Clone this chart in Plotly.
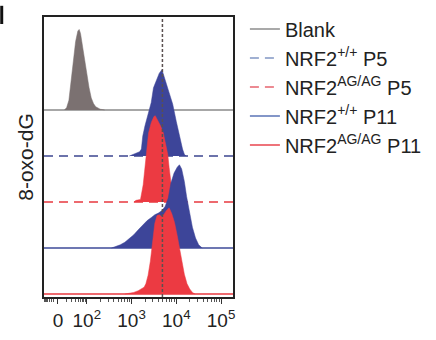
import plotly.graph_objects as go
import numpy as np

# ---------------- data ----------------
series_names = ["Blank", "NRF2<sup>+/+</sup> P5", "NRF2<sup>AG/AG</sup> P5",
                "NRF2<sup>+/+</sup> P11", "NRF2<sup>AG/AG</sup> P11"]
lane_offsets = [4, 3, 2, 1, 0]
peak_heights = [1.75, 1.875, 1.875, 1.81, 1.875]

# x in log10 display units (biexponential-like axis), heights as fraction of peak
blank_u = [1.50, 1.55, 1.60, 1.65, 1.70, 1.75, 1.80, 1.83, 1.86, 1.90, 1.95, 2.00, 2.05, 2.10, 2.15, 2.20, 2.30, 2.40]
blank_h = [0.00, 0.03, 0.12, 0.35, 0.62, 0.85, 0.98, 1.00, 0.95, 0.80, 0.62, 0.45, 0.28, 0.15, 0.08, 0.04, 0.01, 0.00]

wt_p5_u = [2.95, 3.00, 3.10, 3.18, 3.22, 3.25, 3.30, 3.38, 3.44, 3.49, 3.55, 3.62, 3.68, 3.72, 3.81, 3.88, 3.92, 4.00, 4.07, 4.14, 4.18, 4.22]
wt_p5_h = [0.00, 0.01, 0.03, 0.05, 0.08, 0.23, 0.35, 0.50, 0.62, 0.79, 0.88, 0.96, 1.00, 0.93, 0.79, 0.68, 0.60, 0.40, 0.23, 0.08, 0.02, 0.00]

ag_p5_u = [3.05, 3.10, 3.20, 3.22, 3.26, 3.29, 3.33, 3.38, 3.44, 3.50, 3.53, 3.58, 3.65, 3.71, 3.76, 3.81, 3.84, 3.87, 3.90, 3.93, 3.96]
ag_p5_h = [0.00, 0.02, 0.03, 0.08, 0.20, 0.35, 0.55, 0.80, 0.92, 0.99, 1.00, 0.95, 0.88, 0.80, 0.68, 0.55, 0.40, 0.25, 0.10, 0.02, 0.00]

wt_p11_u = [2.55, 2.65, 2.75, 2.85, 2.95, 3.05, 3.15, 3.25, 3.35, 3.45, 3.52, 3.60, 3.68, 3.75, 3.82, 3.88, 3.95, 4.02, 4.07, 4.12, 4.18, 4.23, 4.30, 4.36, 4.43, 4.50, 4.58]
wt_p11_h = [0.00, 0.02, 0.04, 0.07, 0.11, 0.16, 0.22, 0.28, 0.33, 0.37, 0.40, 0.42, 0.45, 0.50, 0.60, 0.78, 0.90, 0.97, 1.00, 0.95, 0.80, 0.62, 0.42, 0.25, 0.12, 0.04, 0.00]

ag_p11_u = [2.85, 2.95, 3.05, 3.15, 3.22, 3.28, 3.32, 3.37, 3.42, 3.47, 3.52, 3.57, 3.62, 3.67, 3.72, 3.78, 3.84, 3.90, 3.96, 4.02, 4.07, 4.13, 4.18, 4.24, 4.30, 4.36, 4.42]
ag_p11_h = [0.00, 0.01, 0.02, 0.04, 0.06, 0.08, 0.12, 0.22, 0.38, 0.61, 0.82, 0.91, 0.92, 0.90, 0.92, 0.97, 1.00, 0.93, 0.83, 0.68, 0.53, 0.38, 0.23, 0.12, 0.06, 0.02, 0.00]

series_u = [blank_u, wt_p5_u, ag_p5_u, wt_p11_u, ag_p11_u]
series_h = [blank_h, wt_p5_h, ag_p5_h, wt_p11_h, ag_p11_h]

tick_vals = [1.356, 2, 3, 4, 5]
tick_text = ["0", "10<sup>2</sup>", "10<sup>3</sup>", "10<sup>4</sup>", "10<sup>5</sup>"]
marker_u = 3.69          # dashed reference line (log10 units)
x_range = [1.044, 5.267]
y_range = [-0.0625, 6.02]

# ---------------- styles ----------------
fill_colors = ["#7b7171", "#3d4599", "#ec3a42", "#3d4599", "#ec3a42"]
base_colors = ["#8a8a8a", "#3d4590", "#e8383f", "#3d4a98", "#e8383f"]
legend_colors = ["#8c8c8c", "#8196c4", "#e6646f", "#5a73b6", "#e8444e"]
dashes = ["solid", "9px,6px", "9px,6px", "solid", "solid"]
FONT = "Liberation Sans, Arial, sans-serif"

fig = go.Figure()
for i in range(5):
    off = lane_offsets[i]
    # baseline
    fig.add_trace(go.Scatter(x=x_range, y=[off, off], mode="lines",
                             line=dict(color=base_colors[i], width=1.5, dash=dashes[i]),
                             showlegend=False, hoverinfo="skip"))
    # histogram
    u = np.array(series_u[i])
    h = off + peak_heights[i] * np.array(series_h[i])
    fig.add_trace(go.Scatter(x=u, y=h, mode="lines", fill="toself",
                             fillcolor=fill_colors[i],
                             line=dict(color=fill_colors[i], width=0.5),
                             showlegend=False, hoverinfo="skip"))

# legend entries
for i in range(5):
    fig.add_trace(go.Scatter(x=[None], y=[None], mode="lines", name=series_names[i],
                             legendgroup=f"g{i}",
                             line=dict(color=legend_colors[i], width=1.5, dash=dashes[i])))

# minor ticks
minor_vals = []
for n in [2, 3, 4]:
    for k in range(2, 10):
        minor_vals.append(n + np.log10(k))
span = 2 - tick_vals[0]
for k in range(2, 10):
    minor_vals.append(tick_vals[0] + np.log10(k) * span)
    v = tick_vals[0] - np.log10(k) * span * 0.5
    if v > x_range[0]:
        minor_vals.append(v)

fig.add_shape(type="line", xref="x", yref="paper", x0=marker_u, x1=marker_u, y0=0, y1=1,
              line=dict(color="#5a5050", width=1.5, dash="3px,2px"))
# cropped panel letter at top-left corner
fig.add_shape(type="rect", xref="paper", yref="paper", x0=-0.2316, x1=-0.2158,
              y0=0.975, y1=1.04, fillcolor="#111", line=dict(width=0))

fig.update_layout(
    width=436, height=340,
    margin=dict(l=44, r=202, t=9, b=39),
    paper_bgcolor="white", plot_bgcolor="white",
    font=dict(family=FONT, color="#222"),
    showlegend=True,
    legend=dict(x=1.063, xanchor="left", y=1.027, yanchor="top",
                font=dict(size=20, family=FONT, color="#222"),
                traceorder="grouped", tracegroupgap=0,
                bgcolor="rgba(0,0,0,0)", borderwidth=0, itemwidth=30),
    xaxis=dict(range=x_range, showline=True, mirror=True, linecolor="#222", linewidth=2,
               ticks="outside", ticklen=5, tickwidth=1, tickcolor="#333",
               tickvals=tick_vals, ticktext=tick_text,
               tickfont=dict(size=19, family=FONT, color="#222"),
               showgrid=False, zeroline=False,
               minor=dict(tickvals=minor_vals, ticks="outside", ticklen=3, tickwidth=1,
                          tickcolor="#555", showgrid=False)),
    yaxis=dict(range=y_range, showline=True, mirror=True, linecolor="#222", linewidth=2,
               ticks="", showticklabels=False, showgrid=False, zeroline=False,
               automargin=False,
               title=dict(text="8-oxo-dG", font=dict(size=21, family=FONT, color="#222"),
                          standoff=3)),
)

fig.write_html("out.html", config={"displayModeBar": False},
               post_script="document.body.style.margin='0';")
